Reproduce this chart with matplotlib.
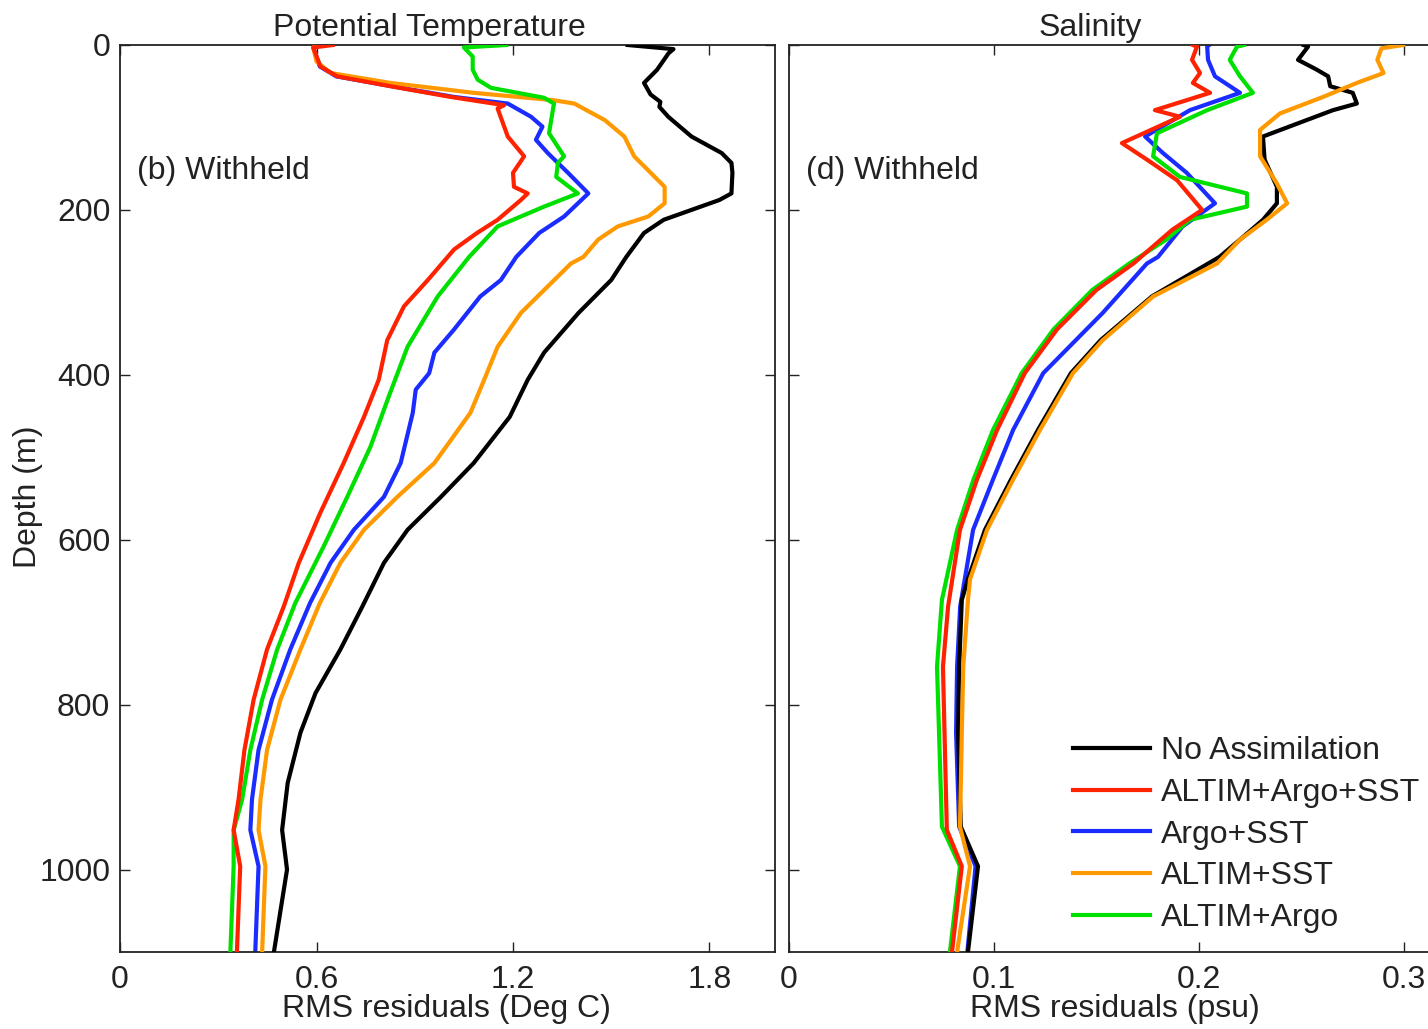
import matplotlib
matplotlib.use("Agg")
import matplotlib.pyplot as plt

plt.rcParams['font.family'] = ['Liberation Sans', 'DejaVu Sans']

FS = 23

# ---------------- Potential temperature RMS residuals (Deg C) ----------------
t_black_depth = [0, 5, 10, 30, 46, 60, 69, 75, 87, 111, 131, 143, 155, 180, 188, 212, 228, 257,
                 285, 325, 373, 406, 451, 507, 548, 588, 628, 681, 733, 786, 834, 895, 952, 1000, 1100]
t_black = [1.55, 1.69, 1.675, 1.64, 1.60, 1.62, 1.65, 1.647, 1.674, 1.745, 1.837, 1.867, 1.87, 1.867, 1.83,
           1.66, 1.60, 1.546, 1.50, 1.40, 1.295, 1.245, 1.19, 1.08, 0.98, 0.878, 0.806, 0.74, 0.673, 0.597,
           0.551, 0.512, 0.495, 0.51, 0.47]

t_red_depth = [0, 3, 26, 38, 50, 63, 73, 77, 111, 135, 155, 172, 180, 188, 212, 228, 248, 285, 317, 358,
               406, 451, 507, 567, 628, 681, 733, 794, 855, 915, 952, 996, 1100]
t_red = [0.65, 0.59, 0.612, 0.663, 0.826, 1.01, 1.173, 1.153, 1.184, 1.234, 1.20, 1.203, 1.245, 1.224,
         1.153, 1.09, 1.02, 0.94, 0.867, 0.816, 0.79, 0.745, 0.683, 0.612, 0.546, 0.50, 0.449, 0.408,
         0.38, 0.362, 0.347, 0.367, 0.357]

t_blue_depth = [0, 3, 26, 38, 50, 63, 71, 87, 99, 115, 131, 155, 180, 208, 228, 257, 285, 305, 345, 373,
                398, 418, 446, 507, 548, 588, 628, 677, 733, 794, 855, 915, 952, 996, 1100]
t_blue = [0.62, 0.59, 0.61, 0.66, 0.83, 1.02, 1.184, 1.255, 1.29, 1.27, 1.306, 1.368, 1.43, 1.356, 1.28,
          1.21, 1.163, 1.10, 1.02, 0.96, 0.944, 0.903, 0.894, 0.857, 0.806, 0.714, 0.643, 0.58, 0.52,
          0.464, 0.423, 0.403, 0.398, 0.423, 0.413]

t_orange_depth = [0, 3, 20, 34, 46, 58, 67, 71, 91, 111, 135, 164, 172, 192, 208, 220, 236, 257, 265, 325,
                  366, 406, 446, 507, 548, 588, 628, 677, 733, 794, 855, 915, 952, 996, 1100]
t_orange = [0.60, 0.59, 0.60, 0.643, 0.826, 1.08, 1.325, 1.387, 1.48, 1.54, 1.57, 1.643, 1.663, 1.663,
            1.613, 1.52, 1.46, 1.415, 1.377, 1.224, 1.153, 1.112, 1.07, 0.96, 0.847, 0.745, 0.673, 0.61,
            0.551, 0.49, 0.449, 0.429, 0.423, 0.444, 0.434]

t_green_depth = [0, 3, 14, 30, 42, 52, 64, 71, 107, 135, 143, 160, 180, 196, 220, 257, 305, 366, 427, 487,
                 548, 608, 677, 733, 794, 855, 915, 952, 996, 1100]
t_green = [1.18, 1.05, 1.077, 1.077, 1.092, 1.133, 1.295, 1.325, 1.31, 1.356, 1.337, 1.332, 1.398, 1.295,
           1.153, 1.066, 0.97, 0.878, 0.82, 0.765, 0.694, 0.622, 0.535, 0.48, 0.434, 0.398, 0.373, 0.347,
           0.347, 0.337]

# ---------------- Salinity RMS residuals (psu) ----------------
s_black_depth = [0, 2, 18, 30, 38, 50, 58, 71, 79, 111, 139, 172, 192, 212, 236, 257, 305, 358, 398, 467,
                 527, 588, 648, 673, 754, 834, 948, 996, 1100]
s_black = [0.251, 0.2532, 0.2483, 0.2575, 0.263, 0.264, 0.275, 0.277, 0.2654, 0.2312, 0.232, 0.238, 0.238,
           0.2312, 0.22, 0.21, 0.177, 0.152, 0.1375, 0.1214, 0.1083, 0.0956, 0.0873, 0.0843, 0.083, 0.0825,
           0.0838, 0.0922, 0.0873]

s_red_depth = [0, 2, 18, 34, 46, 58, 79, 87, 119, 139, 164, 200, 224, 265, 297, 345, 398, 467, 527, 588,
               681, 754, 952, 996, 1100]
s_red = [0.197, 0.199, 0.1966, 0.2005, 0.197, 0.2054, 0.1785, 0.1907, 0.1624, 0.1746, 0.1893, 0.2015,
         0.187, 0.168, 0.150, 0.1307, 0.115, 0.1015, 0.0917, 0.0834, 0.0776, 0.0751, 0.077, 0.0843, 0.0795]

s_blue_depth = [0, 2, 18, 38, 58, 79, 111, 131, 155, 192, 220, 257, 265, 325, 398, 467, 527, 588, 681,
                754, 834, 948, 996, 1100]
s_blue = [0.205, 0.204, 0.2044, 0.2078, 0.22, 0.1956, 0.1737, 0.1824, 0.194, 0.2078, 0.192, 0.18, 0.1746,
          0.153, 0.124, 0.1093, 0.0995, 0.0898, 0.0835, 0.082, 0.0815, 0.083, 0.091, 0.087]

s_orange_depth = [0, 4, 18, 34, 46, 63, 83, 103, 135, 168, 192, 212, 236, 265, 305, 358, 398, 467, 527,
                  588, 648, 673, 754, 834, 948, 996, 1100]
s_orange = [0.2996, 0.289, 0.287, 0.29, 0.277, 0.2605, 0.2395, 0.2298, 0.2298, 0.238, 0.243, 0.233, 0.22,
            0.2088, 0.1776, 0.153, 0.1385, 0.1224, 0.1093, 0.0966, 0.0883, 0.0873, 0.085, 0.0843, 0.0834,
            0.0883, 0.082]

s_green_depth = [0, 2, 18, 38, 58, 79, 107, 135, 160, 180, 196, 212, 236, 265, 297, 345, 398, 467, 527,
                 588, 673, 754, 948, 996, 1100]
s_green = [0.222, 0.2185, 0.215, 0.22, 0.2263, 0.204, 0.1795, 0.1776, 0.1907, 0.2234, 0.2234, 0.1956, 0.184,
           0.166, 0.148, 0.129, 0.1135, 0.0995, 0.090, 0.082, 0.0746, 0.0722, 0.0746, 0.0834, 0.0785]

labels = ['No Assimilation', 'ALTIM+Argo+SST', 'Argo+SST', 'ALTIM+SST', 'ALTIM+Argo']
colors = ['#000000', '#ff2200', '#1a2cff', '#ff9900', '#00e000']

t_series = [(t_black_depth, t_black), (t_red_depth, t_red), (t_blue_depth, t_blue),
            (t_orange_depth, t_orange), (t_green_depth, t_green)]
s_series = [(s_black_depth, s_black), (s_red_depth, s_red), (s_blue_depth, s_blue),
            (s_orange_depth, s_orange), (s_green_depth, s_green)]

# drawing order: blue, black, orange, green, red (red on top)
zorders = [3, 6, 2, 4, 5]

W, H = 1428, 1029
fig = plt.figure(figsize=(W / 100, H / 100), dpi=100)
fig.patch.set_facecolor('white')

ax1 = fig.add_axes([120 / W, (H - 952) / H, 655 / W, 907 / H])
ax2 = fig.add_axes([789 / W, (H - 952) / H, 0.32 * 2050 / W, 907 / H])

lines = []
for (d, v), c, z, lab in zip(t_series, colors, zorders, labels):
    ln, = ax1.plot(v, d, color=c, lw=3.0, zorder=z, label=lab, solid_joinstyle='round')
    lines.append(ln)
for (d, v), c, z in zip(s_series, colors, zorders):
    ax2.plot(v, d, color=c, lw=3.0, zorder=z, solid_joinstyle='round')

ax1.set_xlim(0, 2.0)
ax2.set_xlim(0, 0.32)
for ax in (ax1, ax2):
    ax.set_ylim(1100, 0)
    ax.set_yticks([0, 200, 400, 600, 800, 1000])
    ax.tick_params(direction='in', length=7, width=1.0, top=True, right=True,
                   labelsize=FS, pad=9, colors='#222222', labelcolor='#222222')
    for sp in ax.spines.values():
        sp.set_linewidth(1.3)
        sp.set_color('#222222')

ax1.set_xticks([0, 0.6, 1.2, 1.8])
ax1.set_xticklabels(['0', '0.6', '1.2', '1.8'])
ax1.tick_params(axis='y', pad=7)
ax2.set_xticks([0, 0.1, 0.2, 0.3])
ax2.set_xticklabels(['0', '0.1', '0.2', '0.3'])
ax2.set_yticklabels([])

txt = dict(fontsize=FS, color='#222222')
fig.text(429 / W, 1 - 36 / H, 'Potential Temperature', ha='center', va='baseline', **txt)
fig.text(1090 / W, 1 - 36 / H, 'Salinity', ha='center', va='baseline', **txt)
fig.text(446 / W, 1 - 1017 / H, 'RMS residuals (Deg C)', ha='center', va='baseline', **txt)
fig.text(1115 / W, 1 - 1017 / H, 'RMS residuals (psu)', ha='center', va='baseline', **txt)
fig.text(28 / W, 1 - 497 / H, 'Depth (m)', ha='center', va='center', rotation=90, **txt)
fig.text(137 / W, 1 - 171 / H, '(b) Withheld', ha='left', va='center', **txt)
fig.text(806 / W, 1 - 171 / H, '(d) Withheld', ha='left', va='center', **txt)

leg = fig.legend(handles=lines, labels=labels, loc='upper left',
                 bbox_to_anchor=(1073 / W, 1 - 736 / H), frameon=False,
                 fontsize=FS, handlelength=2.4, handletextpad=0.35,
                 labelspacing=0.37, borderpad=0, borderaxespad=0)
for t in leg.get_texts():
    t.set_color('#222222')

fig.savefig('out.png', dpi=100, facecolor='white')
